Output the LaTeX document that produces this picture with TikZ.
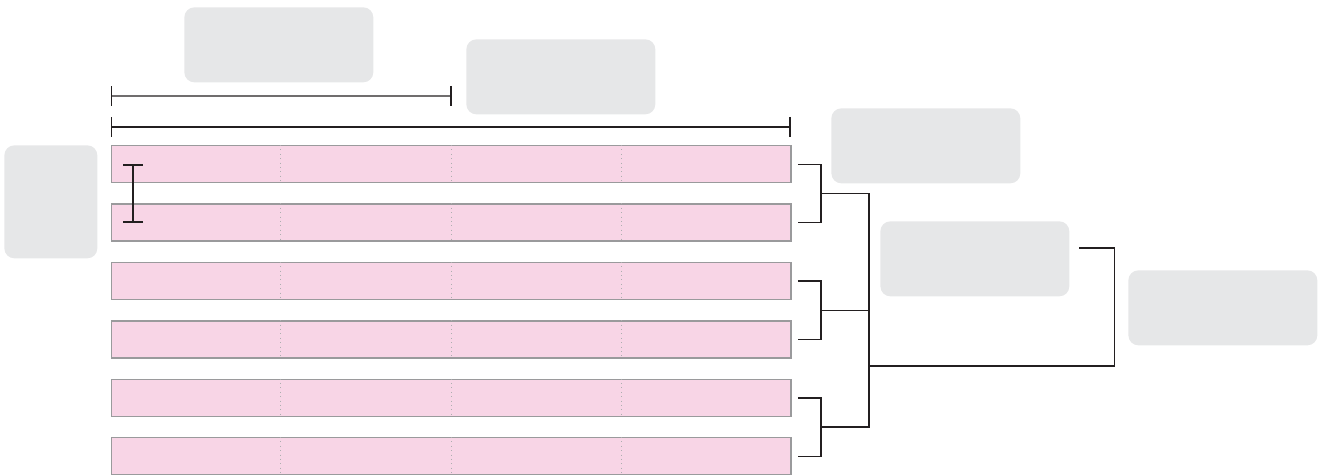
\documentclass[tikz,border=0pt]{standalone}
\usepackage{xcolor}
\usepackage{tikz}
\usetikzlibrary{arrows.meta,calc,positioning}
\definecolor{ppink}{HTML}{F8D5E6}
\definecolor{pgray}{HTML}{E6E7E8}
\definecolor{pedge}{HTML}{9A9A9C}
\definecolor{pline}{HTML}{231F20}
\tikzset{
  pbar/.style={rectangle, fill=ppink, draw=pedge, line width=0.85pt,
               minimum width=13.6cm, minimum height=0.74cm, inner sep=0pt},
  pbox/.style={rectangle, rounded corners=0.2cm, fill=pgray, draw=none,
               minimum width=3.78cm, minimum height=1.5cm, inner sep=0pt},
  pdiv/.style={pedge!80, dotted, line width=0.5pt},
  plink/.style={pline, line width=0.75pt},
  pdim/.style={pline, line width=0.75pt, {Bar[width=0.4cm,line width=1.1pt]}-{Bar[width=0.4cm,line width=1.1pt]}},
}
\begin{document}
\begin{tikzpicture}[x=0.02cm,y=-0.02cm]

  \useasboundingbox (0,0) rectangle (1327,475);

  % grey label boxes
  \node[pbox, anchor=north west] (lA) at (184,7) {};
  \node[pbox, anchor=north west] (lB) at (466,39) {};
  \node[pbox, anchor=north west] (lC) at (831,108) {};
  \node[pbox, anchor=north west] (lD) at (880,221) {};
  \node[pbox, anchor=north west] (lE) at (1128,270) {};
  \node[pbox, anchor=north west, minimum width=1.86cm, minimum height=2.26cm] (lF) at (4,145) {};

  % six pink rows with quarter marks
  \foreach \i in {1,...,6}{
    \node[pbar, anchor=north west] (r\i) at (110.5,{145+58.4*(\i-1)}) {};
    \foreach \f in {0.25,0.5,0.75}
      \draw[pdiv] ($(r\i.north west)!\f!(r\i.north east)$) -- ($(r\i.south west)!\f!(r\i.south east)$);
  }

  % dimension bars
  \draw[pdim] ($(r1.north west)+(0,-49)$) -- ($(r1.north west)!.5!(r1.north east)+(1,-49)$);
  \draw[pdim] ($(r1.north west)+(0,-18)$) -- ($(r1.north east)+(-1,-18)$);
  \draw[pdim] ($(r1.west)+(22.5,0)$) -- ($(r2.west)+(22.5,0)$);

  % pairing brackets
  \foreach \a/\b/\j in {1/2/a,3/4/b,5/6/c}{
    \draw[plink] ([xshift=0.12cm]r\a.east) -- ++(23,0) |- ([xshift=0.12cm]r\b.east);
    \coordinate (j\j) at ($(r\a.east)!.5!(r\b.east)+(29,0)$);
  }
  \draw[plink] (ja) -- ++(48,0) |- (jb);
  \draw[plink] (jb) -- ++(48,0) |- (jc);
  \coordinate (jm) at ($(ja)+(48,172.5)$);
  \coordinate (dend) at ($(lD.north east)+(9,27)$);
  \draw[plink] (jm) -| ($(dend)+(36,0)$) -- (dend);

\end{tikzpicture}
\end{document}
